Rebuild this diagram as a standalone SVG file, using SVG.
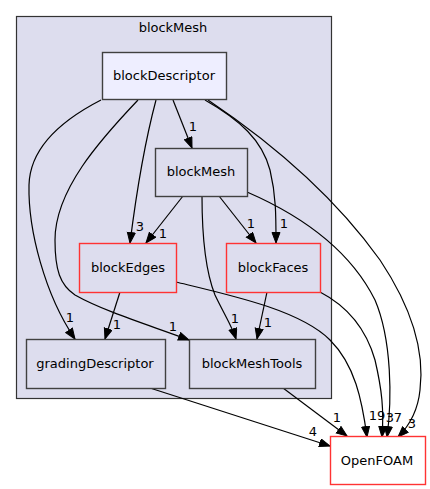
<svg xmlns="http://www.w3.org/2000/svg" width="430" height="489" viewBox="0 0 430 489">
<defs>
<style>
text{font-family:"DejaVu Sans",sans-serif;font-size:13px;fill:#000}
.n text{text-anchor:middle}
.n rect{stroke-width:1.4}
.e path{fill:none;stroke:#000;stroke-width:1.2;marker-end:url(#ah)}
.l{font-size:13px;text-anchor:middle}
</style>
<marker id="ah" markerUnits="userSpaceOnUse" markerWidth="13" markerHeight="10" refX="11" refY="4.5" orient="auto" viewBox="0 0 13 10">
<path d="M0.5,0.5 L11,4.5 L0.5,8.5 z" fill="#000" stroke="#000" stroke-width="1"/>
</marker>
</defs>
<rect width="430" height="489" fill="#fff"/>
<g id="cluster_blockMesh">
<rect x="16.5" y="16.5" width="315" height="382" fill="#ddddee" stroke="#333" stroke-width="1.2"/>
<text x="173" y="32" text-anchor="middle">blockMesh</text>
</g>
<g class="e" id="edges">
<path d="M173,100 L192,148"/>
<path d="M156,100 C148,130 138,180 130,243"/>
<path d="M183,196 L146,243"/>
<path d="M219,196 L256,243"/>
<path d="M205,100 C240,120 262,140 270,170 C276,195 276,215 276,243"/>
<path d="M101,100 C66,118 30,145 29,185 C28,230 45,295 75,339"/>
<path d="M138,100 C100,140 55,190 55,240 C55,270 60,285 75,295 C105,312 155,327 189,340"/>
<path d="M120,292 L105,339"/>
<path d="M202,196 C202,230 205,270 215,295 C224,314 232,326 236,339"/>
<path d="M267,292 L257,339"/>
<path d="M150,388 L330,446"/>
<path d="M283,388 L347,436"/>
<path d="M176,282 C230,295 300,310 330,340 C355,365 362,400 367,437"/>
<path d="M320,292 C345,305 365,325 375,360 C382,390 384,410 382,437"/>
<path d="M247,192 C300,215 350,250 375,300 C392,340 392,400 387,437"/>
<path d="M208,100 C260,135 330,190 380,260 C410,305 425,350 420,390 C418,410 410,425 398,437"/>
</g>
<g id="edge_labels">
<text class="l" x="193" y="131">1</text>
<text class="l" x="140" y="231">3</text>
<text class="l" x="163" y="238">1</text>
<text class="l" x="251" y="228">1</text>
<text class="l" x="284" y="228">1</text>
<text class="l" x="70" y="322">1</text>
<text class="l" x="117" y="329">1</text>
<text class="l" x="173" y="331">1</text>
<text class="l" x="235" y="323">1</text>
<text class="l" x="268" y="327">1</text>
<text class="l" x="313" y="436">4</text>
<text class="l" x="337" y="422">1</text>
<text class="l" x="377" y="420">19</text>
<text class="l" x="390" y="422">3</text>
<text class="l" x="398" y="422">7</text>
<text class="l" x="412" y="428">3</text>
</g>
<g class="n" id="node_blockDescriptor">
<rect x="102.5" y="52.5" width="124" height="47" fill="#eeeeff" stroke="#404040"/>
<text x="164" y="80">blockDescriptor</text>
</g>
<g class="n" id="node_blockMesh">
<rect x="155.5" y="148.5" width="92" height="48" fill="#ddddee" stroke="#404040"/>
<text x="201" y="176">blockMesh</text>
</g>
<g class="n" id="node_blockEdges">
<rect x="79.5" y="243.5" width="97" height="49" fill="#ddddee" stroke="#ff3333"/>
<text x="128" y="272">blockEdges</text>
</g>
<g class="n" id="node_blockFaces">
<rect x="226.5" y="243.5" width="94" height="49" fill="#ddddee" stroke="#ff3333"/>
<text x="273" y="272">blockFaces</text>
</g>
<g class="n" id="node_gradingDescriptor">
<rect x="26.5" y="339.5" width="139" height="49" fill="#ddddee" stroke="#404040"/>
<text x="95" y="368">gradingDescriptor</text>
</g>
<g class="n" id="node_blockMeshTools">
<rect x="189.5" y="339.5" width="126" height="49" fill="#ddddee" stroke="#404040"/>
<text x="252" y="368">blockMeshTools</text>
</g>
<g class="n" id="node_OpenFOAM">
<rect x="330.5" y="436.5" width="95" height="48" fill="#fff" stroke="#ff3333"/>
<text x="377" y="465">OpenFOAM</text>
</g>
</svg>
